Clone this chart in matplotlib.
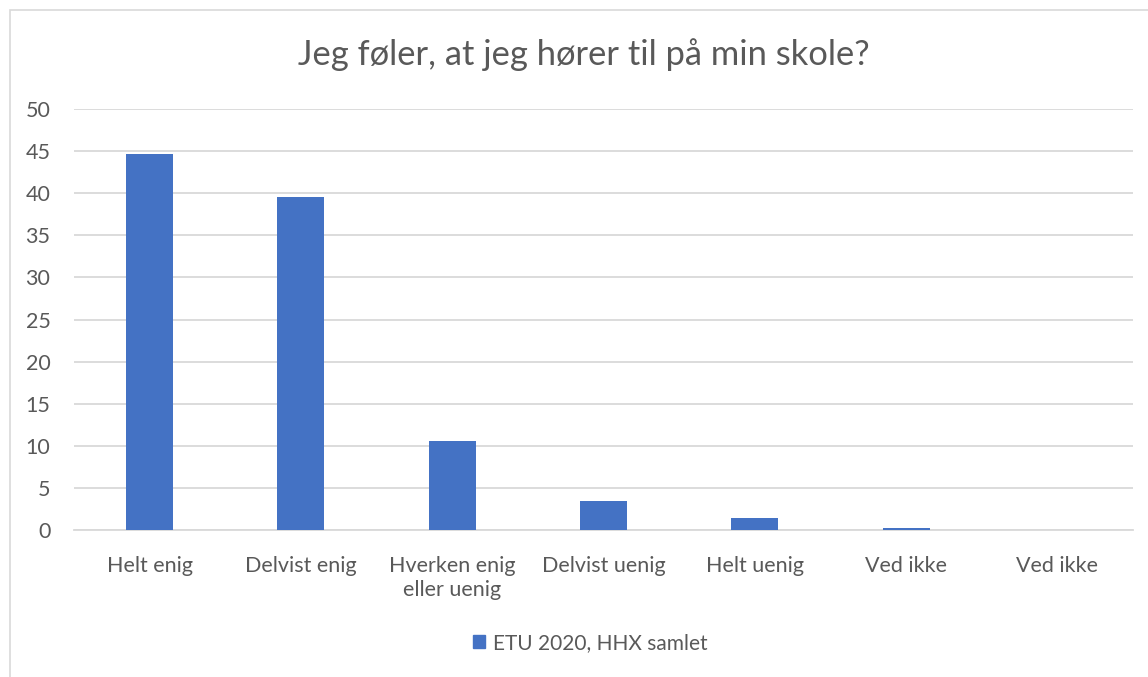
import matplotlib.pyplot as plt
from matplotlib.patches import Rectangle, Patch

plt.rcParams['font.family'] = ['Lato', 'DejaVu Sans']

# ---- Data ----
categories = ['Helt enig', 'Delvist enig', 'Hverken enig\neller uenig',
              'Delvist uenig', 'Helt uenig', 'Ved ikke', 'Ved ikke']
values = [44.7, 39.5, 10.6, 3.5, 1.4, 0.2, 0.0]
series_name = 'ETU 2020, HHX samlet'
y_ticks = [0, 5, 10, 15, 20, 25, 30, 35, 40, 45, 50]

bar_color = '#4472c4'
text_color = '#595959'
grid_color = '#d9d9d9'

W, H = 1148, 677
fig = plt.figure(figsize=(W / 100, H / 100), dpi=100)

# light chart border
fig.patches.append(Rectangle((10 / W, -0.05), 1.2, 1 - 10 / H + 0.05,
                             transform=fig.transFigure, fill=False,
                             edgecolor='#d9d9d9', linewidth=1.2))

ax = fig.add_axes([74 / W, 147 / H, (1133 - 74) / W, (530 - 109) / H])

x = range(len(categories))
ax.bar(x, values, width=0.31, color=bar_color, zorder=3)

ax.set_xlim(-0.5, len(categories) - 0.5)
ax.set_ylim(0, 50)
ax.set_yticks(y_ticks)
ax.set_xticks(list(x))
ax.set_xticklabels(categories, fontsize=15.5, color=text_color, linespacing=1.25)
ax.tick_params(axis='y', labelsize=15.5, labelcolor=text_color, length=0, pad=17)
ax.tick_params(axis='x', length=0, pad=19)
for lab in ax.get_yticklabels():
    lab.set_horizontalalignment('right')

ax.grid(axis='y', color=grid_color, linewidth=1.3, zorder=0)
for side in ['top', 'right', 'left']:
    ax.spines[side].set_visible(False)
ax.spines['bottom'].set_color(grid_color)
ax.spines['bottom'].set_linewidth(1.3)

fig.text(584 / W, 1 - 55 / H, 'Jeg føler, at jeg hører til på min skole?',
         ha='center', va='center', fontsize=24.8, color=text_color)

fig.legend(handles=[Patch(color=bar_color, label=series_name)],
           loc='center', bbox_to_anchor=(590 / W, 1 - 643 / H),
           frameon=False, fontsize=15, labelcolor=text_color,
           handlelength=0.6, handleheight=0.6, handletextpad=0.35)

fig.savefig('out.png', dpi=100)
